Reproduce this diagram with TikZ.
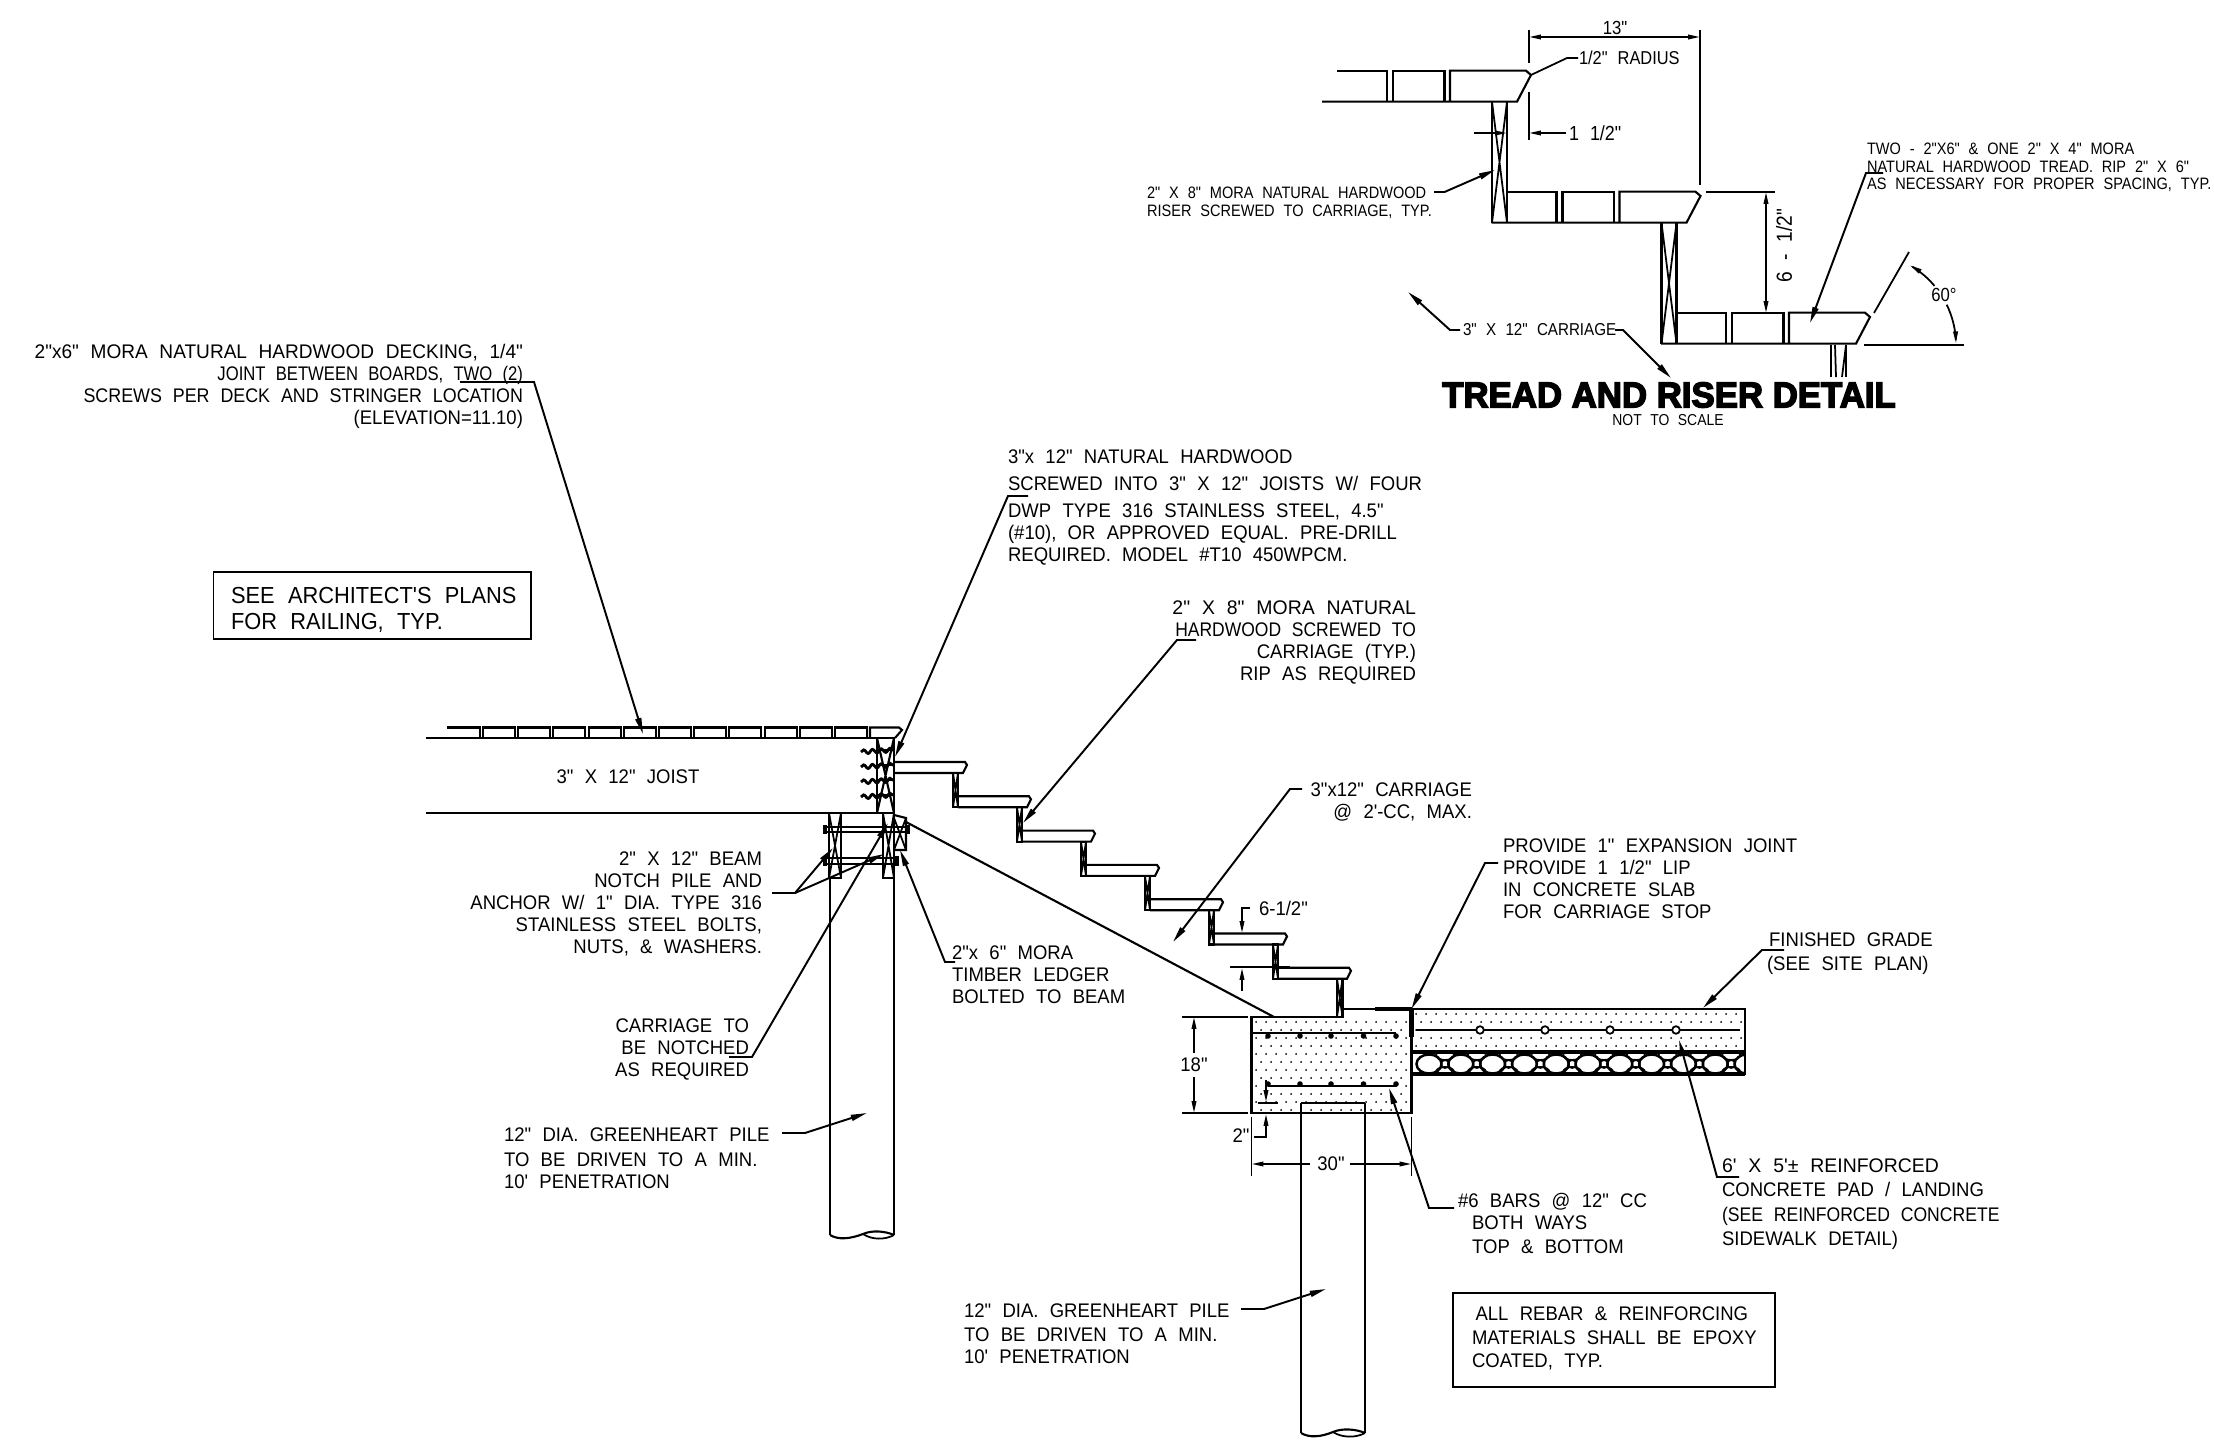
\documentclass[tikz,border=0pt]{standalone}
\usepackage{fontspec}
\usetikzlibrary{arrows.meta, decorations.pathmorphing}
\newfontfamily\cadfont[FakeStretch=0.94,WordSpace=2.2]{Liberation Sans}
\newfontfamily\cadsmallfont[FakeStretch=0.88,WordSpace=2.2]{Liberation Sans}
\newfontfamily\headfont[FakeStretch=0.97,FakeBold=4]{Liberation Sans Bold}
\tikzset{
  lbl/.style={font=\cadfont\fontsize{5.6}{6.26}\selectfont, inner sep=0, align=left},
  lblr/.style={font=\cadfont\fontsize{5.6}{6.26}\selectfont, inner sep=0, align=right},
  lblbig/.style={font=\cadfont\fontsize{6.6}{7.6}\selectfont, inner sep=0, align=left},
  lblsmall/.style={font=\cadsmallfont\fontsize{4.7}{5}\selectfont, inner sep=0, align=left},
  lbldim/.style={font=\cadsmallfont\fontsize{5.4}{6}\selectfont, inner sep=0, align=left},
  leader/.style={line width=0.55pt, -{Triangle[length=4.6pt,width=1.7pt]}},
  dimline/.style={line width=0.5pt, {Triangle[length=3.4pt,width=1.3pt]}-{Triangle[length=3.4pt,width=1.3pt]}},
  dimend/.style={line width=0.5pt, -{Triangle[length=3.4pt,width=1.3pt]}},
  fine/.style={line width=0.5pt},
  heavy/.style={line width=1.1pt},
  crossbox/.style={line width=0.6pt}
}
\begin{document}
\begin{tikzpicture}[x=0.01cm,y=-0.01cm,line width=0.6pt]
\useasboundingbox (0,0) rectangle (2214,1443);

\node[lblr,anchor=north east](lbldeck) at (524,343) {\scalebox{1.03}[1]{2"x6" MORA NATURAL HARDWOOD DECKING, 1/4"}\\\scalebox{0.9}[1]{JOINT BETWEEN BOARDS, TWO (2)}\\\scalebox{0.965}[1]{SCREWS PER DECK AND STRINGER LOCATION}\\(ELEVATION=11.10)\hspace{1.5pt}};
\node[lblbig,anchor=north west](lblrail) at (230,586) {SEE ARCHITECT'S PLANS\\FOR RAILING, TYP.};
\draw[fine] (213.5,571.7) rectangle (531,639);
\node[lbl,anchor=north west](lbljoisttread) at (1007,449) {3"x 12" NATURAL HARDWOOD\\[1.4pt]SCREWED INTO 3" X 12" JOISTS W/ FOUR\\[1.4pt]DWP TYPE 316 STAINLESS STEEL, 4.5"\\(\#10), OR APPROVED EQUAL. PRE-DRILL\\REQUIRED. MODEL \#T10 450WPCM.};
\node[lblr,anchor=north east](lblmora) at (1417,600) {\scalebox{1.05}[1]{2" X 8" MORA NATURAL}\\\scalebox{0.945}[1]{HARDWOOD SCREWED TO}\\CARRIAGE (TYP.)\\RIP AS REQUIRED};
\node[lbl,anchor=north east,align=right](lblcarriage) at (1473,782) {3"x12" CARRIAGE\\@ 2'-CC, MAX.};
\node[lbl,anchor=north west](lblprovide) at (1502,838) {PROVIDE 1" EXPANSION JOINT\\PROVIDE 1 1/2" LIP\\IN CONCRETE SLAB\\FOR CARRIAGE STOP};
\node[lbl,anchor=north west](lblgrade) at (1766,932) {\hspace*{0.6pt}FINISHED GRADE\\[0.5pt](SEE SITE PLAN)};
\node[lbl,anchor=center](lbljoist) at (628,777) {3" X 12" JOIST};
\node[lblr,anchor=north east](lblbeam) at (763,851) {2" X 12" BEAM\\NOTCH PILE AND\hspace{2.8pt}\\ANCHOR W/ 1" DIA. TYPE 316\\STAINLESS STEEL BOLTS,\\NUTS, \& WASHERS.};
\node[lbl,anchor=north west](lblledger) at (951,945) {2"x 6" MORA\\TIMBER LEDGER\\BOLTED TO BEAM};
\node[lblr,anchor=north east](lblnotch) at (750,1018) {CARRIAGE TO\\BE NOTCHED\\AS REQUIRED};
\node[lbl,anchor=north west](lblpile) at (503,1127) {12" DIA. GREENHEART PILE\\[0.8pt]TO BE DRIVEN TO A MIN.\\10' PENETRATION};
\node[lbl,anchor=north west](lblpiletwo) at (963,1303) {12" DIA. GREENHEART PILE\\[0.5pt]TO BE DRIVEN TO A MIN.\\10' PENETRATION};
\node[lbl,anchor=north west](lblbars) at (1457,1192) {\#6 BARS @ 12" CC\\\hspace*{4pt}BOTH WAYS\\[0.6pt]\hspace*{4pt}TOP \& BOTTOM};
\node[lbl,anchor=north west](lblpad) at (1721,1158) {\scalebox{1.05}[1]{6' X 5'± REINFORCED}\\[0.6pt]CONCRETE PAD / LANDING\\[0.6pt]\scalebox{0.95}[1]{(SEE REINFORCED CONCRETE}\\[0.6pt]SIDEWALK DETAIL)};
\node[lbl,anchor=north west](lblepoxy) at (1471,1306) {\hspace*{1pt}ALL REBAR \& REINFORCING\\[0.4pt]MATERIALS SHALL BE EPOXY\\[0.4pt]COATED, TYP.};
\draw[fine] (1453,1293) rectangle (1775,1387);

\node[lbl,anchor=center](dimtwo) at (1241,1136) {2"};
\node[lbl,anchor=center](dimeighteen) at (1194,1065) {18"};
\node[lbl,anchor=center](dimthirty) at (1331,1164) {30"};
\node[lbl,anchor=west](dimriser) at (1258,908) {6-1/2"};

\node[lbldim,anchor=center](dimthirteen) at (1615,28) {13"};
\node[lblsmall,anchor=west,font=\cadsmallfont\fontsize{5.3}{6}\selectfont](lblradius) at (1578,58) {1/2" RADIUS};
\node[lbldim,anchor=west,font=\cadsmallfont\fontsize{5.8}{6}\selectfont](dimlip) at (1568,133) {1 1/2"};
\node[lblsmall,anchor=north west](lblriser) at (1146,186) {2" X 8" MORA NATURAL HARDWOOD\\RISER SCREWED TO CARRIAGE, TYP.};
\node[lblsmall,anchor=north west](lbltwo) at (1866,142) {TWO - 2"X6" \& ONE 2" X 4" MORA\\NATURAL HARDWOOD TREAD. RIP 2" X 6"\\AS NECESSARY FOR PROPER SPACING, TYP.};
\node[lblsmall,anchor=west,font=\cadsmallfont\fontsize{4.9}{5}\selectfont](lbldetailcarr) at (1462,330) {3" X 12" CARRIAGE};
\node[lbldim,anchor=center,rotate=90,font=\cadsmallfont\fontsize{6.2}{7}\selectfont](dimsix) at (1784,246) {6 - 1/2"};
\node[lbldim,anchor=center](dimsixty) at (1944,295) {60°};
\node[inner sep=0,font=\headfont\fontsize{10.2}{12}\selectfont](lbltitle) at (1669,395) {TREAD AND RISER DETAIL};
\node[lblsmall,anchor=center,font=\cadsmallfont\fontsize{4.5}{5}\selectfont](lblscale) at (1668,420) {NOT TO SCALE};

\draw (426,738) -- (894,738);
\draw (426,813) -- (894,813);
\draw (447,727.5) -- (480,727.5) -- (480,738);
\foreach \k in {0,...,10} {
  \draw ({483+35.2*\k},738) -- ({483+35.2*\k},727.5) -- ({515+35.2*\k},727.5) -- ({515+35.2*\k},738);
}
\draw (870,738) -- (870,727.5) -- (899,727.5) -- (902,730) -- (895,738);
\draw[crossbox] (877,738) rectangle (894,813);
\draw[crossbox] (877,738) -- (894,813) (894,738) -- (877,813);
\foreach \s in {750,765,780,795} {
  \draw[line width=0.8pt,decorate,decoration={snake,amplitude=0.55pt,segment length=2.5pt}] (861,\s+2) -- (893,\s);
  \draw[fine] (877,\s) -- (894,\s);
}

\foreach \i in {0,...,6} {
  \begin{scope}[shift={(64*\i,34.3*\i)}]
    \draw (894,773) -- (963,773) -- (967,765) -- (965,762) -- (894,762);
  \end{scope}
}
\foreach \i in {0,...,5} {
  \begin{scope}[shift={(64*\i,34.3*\i)}]
    \draw[crossbox] (953,773) rectangle (958,807.3);
    \draw[fine] (953,773) -- (958,807.3) (958,773) -- (953,807.3);
  \end{scope}
}
\draw[crossbox] (1337,978.8) rectangle (1342.5,1017);
\draw[fine] (1337,978.8) -- (1342.5,1017) (1342.5,978.8) -- (1337,1017);
\draw (894,762) -- (894,773);

\draw[crossbox] (829,813) rectangle (841,878);
\draw[fine] (829,813) -- (841,878) (841,813) -- (829,878);
\draw[crossbox] (883,813) rectangle (894,878);
\draw[fine] (883,813) -- (894,878) (894,813) -- (883,878);
\draw[crossbox] (894,815) -- (906,818) -- (906,850) -- (894,850);
\draw[fine] (894,818) -- (906,850) (906,818) -- (894,850);
\draw[fine] (826,827) rectangle (907,832);
\draw[fine] (826,858) rectangle (896,864);
\draw[heavy] (825,825) -- (825,834) (908,825) -- (908,834) (825,856) -- (825,866) (897,856) -- (897,866);
\draw (894,813) -- (894,1235);
\draw (830,878) -- (830,1235);
\draw (830,1235) .. controls (838,1240) and (850,1239) .. (863,1234) .. controls (872,1230) and (885,1231) .. (894,1235);
\draw[fine] (863,1234) .. controls (872,1240) and (885,1240) .. (894,1235);
\draw (906,822) -- (1274,1017);

\foreach \r in {0,...,11} {
  \foreach \c in {0,...,15} {
    \fill ({1256+10*\c+5*mod(\r,2)},{1022+8*\r}) circle (1);
  }
}
\foreach \r in {0,...,4} {
  \foreach \c in {0,...,32} {
    \fill ({1416+10*\c+5*mod(\r,2)},{1014+8*\r}) circle (1);
  }
}
\begin{scope}
  \clip (1411.5,1052) rectangle (1745,1074);
  \foreach \k in {0,...,10} {
    \draw[line width=0.7pt] ({1429+31.8*\k},1064) ellipse [x radius=12.5,y radius=9.5];
    \draw[fine] ({1445+31.8*\k},1055) ellipse [x radius=9,y radius=5];
    \draw[fine] ({1445+31.8*\k},1072) ellipse [x radius=9,y radius=5];
    \draw[fine] ({1445+31.8*\k},1064) ellipse [x radius=4,y radius=4];
  }
\end{scope}
\draw (1251.5,1017) -- (1342.5,1017) -- (1342.5,1009) -- (1745,1009) -- (1745,1074) -- (1411.5,1074) -- (1411.5,1113) -- (1251.5,1113) -- cycle;
\draw (1411.5,1009) -- (1411.5,1074);
\draw[heavy] (1411.5,1052) -- (1745,1052);
\draw[heavy] (1411.5,1074) -- (1745,1074);
\draw[heavy] (1375,1009) -- (1411.5,1009);
\draw[line width=1.3pt] (1411.5,1009) -- (1411.5,1037);
\draw (1416,1030) -- (1740,1030);
\foreach \cx in {1480,1545,1610,1676} {
  \draw[fill=white,line width=0.5pt] (\cx,1030) circle (3.8);
}
\draw (1251.5,1033) -- (1396,1033);
\draw (1268,1086) -- (1396,1086);
\foreach \cx in {1268,1300,1331,1363.5,1396} {
  \fill (\cx,1036) circle (2.8);
  \fill (\cx,1084) circle (2.8);
}
\draw (1301,1103) -- (1365,1103);
\draw (1301,1103) -- (1301,1433);
\draw (1365,1103) -- (1365,1433);
\draw (1301,1433) .. controls (1309,1438) and (1321,1437) .. (1333,1432) .. controls (1342,1428) and (1356,1429) .. (1365,1433);
\draw[fine] (1333,1432) .. controls (1342,1438) and (1356,1438) .. (1365,1433);

\draw[fine] (1182,1017) -- (1248,1017) (1182,1113) -- (1248,1113);
\draw[dimend] (1194,1053) -- (1194,1017);
\draw[dimend] (1194,1077) -- (1194,1113);
\draw[fine] (1258,1103) -- (1278,1103);
\draw[dimend] (1266,1080) -- (1266,1102);
\draw[dimend] (1254,1137) -- (1266,1137) -- (1266,1114);
\draw[fine] (1251.5,1117) -- (1251.5,1176) (1411.5,1117) -- (1411.5,1176);
\draw[dimend] (1310,1164) -- (1251.5,1164);
\draw[dimend] (1350,1164) -- (1411.5,1164);
\draw[dimend] (1250,908) -- (1242,908) -- (1242,933);
\draw[fine] (1230,967) -- (1290,967);
\draw[dimend] (1242,991) -- (1242,968);

\coordinate (deckA) at (460,382);
\coordinate (deckB) at (534,382);
\coordinate (deckTip) at (643,734);
\draw[leader] (deckA) -- (deckB) -- (deckTip);
\coordinate (treadA) at (1028,496);
\coordinate (treadB) at (1008,496);
\coordinate (treadTip) at (895,757);
\draw[leader] (treadA) -- (treadB) -- (treadTip);
\coordinate (moraA) at (1196,640);
\coordinate (moraB) at (1177,640);
\coordinate (moraTip) at (1023,823);
\draw[leader] (moraA) -- (moraB) -- (moraTip);
\coordinate (carrA) at (1302,789);
\coordinate (carrB) at (1290,789);
\coordinate (carrTip) at (1173,942);
\draw[leader] (carrA) -- (carrB) -- (carrTip);
\coordinate (provA) at (1498,863);
\coordinate (provB) at (1485,863);
\coordinate (provTip) at (1411.5,1009);
\draw[leader] (provA) -- (provB) -- (provTip);
\coordinate (gradeA) at (1784,950);
\coordinate (gradeB) at (1762,950);
\coordinate (gradeTip) at (1703,1008);
\draw[leader] (gradeA) -- (gradeB) -- (gradeTip);
\coordinate (padA) at (1739,1177);
\coordinate (padB) at (1717,1177);
\coordinate (padTip) at (1679,1040);
\draw[leader] (padA) -- (padB) -- (padTip);
\coordinate (barsA) at (1454,1208);
\coordinate (barsB) at (1429,1208);
\coordinate (barsTip) at (1389,1088);
\draw[leader] (barsA) -- (barsB) -- (barsTip);
\coordinate (beamA) at (772,893);
\coordinate (beamB) at (795,893);
\coordinate (beamTip) at (833,848);
\coordinate (beamTipTwo) at (884,854);
\draw[leader] (beamA) -- (beamB) -- (beamTip);
\draw[leader] (beamB) -- (beamTipTwo);
\coordinate (notchA) at (729,1057);
\coordinate (notchB) at (752,1057);
\coordinate (notchTip) at (888,823);
\draw[leader] (notchA) -- (notchB) -- (notchTip);
\coordinate (ledgerA) at (955,962);
\coordinate (ledgerB) at (945,962);
\coordinate (ledgerTip) at (900,850);
\draw[leader] (ledgerA) -- (ledgerB) -- (ledgerTip);
\coordinate (pileA) at (782,1133);
\coordinate (pileB) at (805,1133);
\coordinate (pileTip) at (867,1113);
\draw[leader] (pileA) -- (pileB) -- (pileTip);
\coordinate (piletwoA) at (1241,1309);
\coordinate (piletwoB) at (1264,1309);
\coordinate (piletwoTip) at (1326,1289);
\draw[leader] (piletwoA) -- (piletwoB) -- (piletwoTip);

\foreach \i in {0,1,2} {
  \begin{scope}[shift={(169.5*\i,121*\i)}]
    \draw (1322,101.7) -- (1517,101.7) -- (1531,75) -- (1526,70.7) -- (1450,70.7) -- (1450,101.7);
    \draw (1444.5,101.7) -- (1444.5,70.7) -- (1393,70.7) -- (1393,101.7);
    \draw (1387,101.7) -- (1387,70.7) -- (1337,70.7);
  \end{scope}
}
\foreach \i in {0,1} {
  \begin{scope}[shift={(169.5*\i,121*\i)}]
    \draw (1492,101.7) -- (1492,222.7);
    \draw (1507,101.7) -- (1507,222.7);
    \draw[fine] (1492,101.7) -- (1507,222.7) (1507,101.7) -- (1492,222.7);
  \end{scope}
}
\draw[fine] (1831,345) -- (1831,377) (1835,345) -- (1836,377) (1846,345) -- (1846,377) (1842,377) -- (1846,345);

\draw[fine] (1529,30) -- (1529,63) (1700,30) -- (1700,185);
\draw[dimline] (1529,37) -- (1700,37);
\coordinate (radiusA) at (1578,58);
\coordinate (radiusB) at (1567,58);
\coordinate (radiusTip) at (1531,75);
\draw[fine] (radiusA) -- (radiusB) -- (radiusTip);
\draw[fine] (1529,92) -- (1529,140);
\draw[dimend] (1566,133) -- (1529,133);
\draw[dimend] (1474,133) -- (1507,133);
\coordinate (riserA) at (1434,192);
\coordinate (riserB) at (1444.5,192);
\coordinate (riserTip) at (1495,170);
\draw[leader] (riserA) -- (riserB) -- (riserTip);
\coordinate (twoA) at (1883,173);
\coordinate (twoB) at (1866,173);
\coordinate (twoTip) at (1810,323);
\draw[leader] (twoA) -- (twoB) -- (twoTip);
\coordinate (detailA) at (1460,330);
\coordinate (detailB) at (1450,330);
\coordinate (detailTip) at (1408,292);
\draw[leader] (detailA) -- (detailB) -- (detailTip);
\coordinate (detailC) at (1615,330);
\coordinate (detailD) at (1623,330);
\coordinate (detailTipTwo) at (1671,378);
\draw[leader] (detailC) -- (detailD) -- (detailTipTwo);
\draw[fine] (1706,192) -- (1775,192);
\draw[dimline] (1766,192) -- (1766,313);
\draw[fine] (1874,313) -- (1909,252);
\draw (1864,345) -- (1964,345);
\draw[dimend] plot[domain=40:60,samples=12] ({1864+92*cos(\x)},{345-92*sin(\x)});
\draw[dimend] plot[domain=26:1,samples=12] ({1864+92*cos(\x)},{345-92*sin(\x)});
\end{tikzpicture}
\end{document}
